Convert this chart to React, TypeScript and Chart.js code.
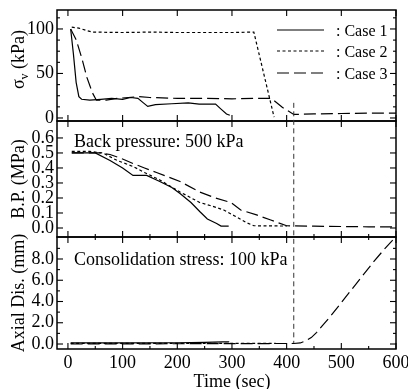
import { useEffect, useRef } from "react";
import { Chart, registerables } from "chart.js";

Chart.register(...registerables);

const FONT = "'Liberation Serif', 'Times New Roman', serif";

const caseLabels = ["Case 1", "Case 2", "Case 3"];
const caseDashes = [[], [3, 2.5], [12, 5]];

// Panel 1: vertical stress sigma_v (kPa) vs time (sec)
const case1Stress = [[5, 100], [10, 72], [15, 40], [20, 24], [25, 21], [40, 20], [60, 21], [80, 22], [100, 21], [115, 23], [128, 22], [138, 17], [146, 13], [160, 15], [190, 16], [220, 17], [240, 15.5], [270, 15.5], [280, 10], [290, 4.5], [296, 3]];
const case2Stress = [[7, 102], [20, 101], [35, 98], [45, 96.5], [100, 96], [150, 96.5], [200, 96], [250, 96], [300, 96], [340, 96.5], [377, 1]];
const case3Stress = [[5, 100], [15, 88], [25, 68], [35, 45], [45, 28], [52, 20], [70, 20], [90, 22], [110, 23], [130, 24], [150, 23], [200, 22], [250, 22], [300, 21.5], [340, 22], [372, 22], [392, 12], [413, 4], [450, 4.5], [500, 5], [550, 5.5], [600, 5.5]];

// Panel 2: back pressure (MPa)
const case1BP = [[7, 0.5], [50, 0.5], [77, 0.45], [100, 0.4], [119, 0.35], [144, 0.35], [168, 0.31], [190, 0.27], [205, 0.23], [225, 0.17], [241, 0.11], [255, 0.06], [272, 0.03], [280, 0.013], [294, 0.013]];
const case2BP = [[7, 0.51], [40, 0.51], [64, 0.5], [90, 0.45], [119, 0.41], [140, 0.37], [168, 0.32], [205, 0.24], [241, 0.17], [260, 0.15], [285, 0.12], [305, 0.08], [327, 0.035], [340, 0.015], [400, 0.013]];
const case3BP = [[7, 0.5], [58, 0.5], [77, 0.49], [100, 0.46], [119, 0.43], [140, 0.4], [162, 0.37], [205, 0.31], [241, 0.24], [270, 0.2], [298, 0.17], [316, 0.12], [345, 0.087], [371, 0.053], [400, 0.015], [450, 0.012], [500, 0.01], [550, 0.008], [600, 0.008]];

// Panel 3: axial displacement (mm)
const case1Dis = [[5, 0.1], [100, 0.1], [200, 0.12], [250, 0.15], [283, 0.2], [295, 0.2]];
const case2Dis = [[5, 0.05], [380, 0.05]];
const case3Dis = [[5, 0], [413, 0.05], [425, 0.1], [435, 0.3], [445, 0.6], [455, 1.1], [465, 1.7], [480, 2.6], [500, 3.9], [520, 5.2], [540, 6.5], [560, 7.8], [580, 9.0], [598, 10.0]];

const separatorTime = 413;
const separatorTopStress = 17;
const separatorBottomDis = 0.1;

const annotationBP = "Back pressure: 500 kPa";
const annotationCS = "Consolidation stress: 100 kPa";
const xTitle = "Time (sec)";

const panels = [
  { id: "yS", min: -3.4, max: 121.3, step: 50, minor: 12.5, maxLabel: 110, digits: 0, weight: 111, topMinor: false, bottomMinor: false },
  { id: "yB", min: -0.06, max: 0.713, step: 0.1, minor: 0, maxLabel: 0.65, digits: 1, weight: 116, topMinor: false, bottomMinor: true },
  { id: "yA", min: -0.47, max: 10.07, step: 2, minor: 1, maxLabel: 9, digits: 1, weight: 112, topMinor: true, bottomMinor: true },
];

function ds(data: number[][], yAxisID: string, idx: number) {
  return {
    label: caseLabels[idx],
    data: data.map(([x, y]) => ({ x, y })),
    xAxisID: "x",
    yAxisID,
    borderColor: "#000",
    backgroundColor: "#000",
    borderWidth: 1.2,
    borderDash: caseDashes[idx],
    pointRadius: 0,
    fill: false,
    tension: 0,
  };
}

const framePlugin = {
  id: "frame",
  afterDraw(chart: any) {
    const ctx = chart.ctx as CanvasRenderingContext2D;
    const xs = chart.scales.x;
    const left = xs.left;
    const right = xs.right;
    const MAJ = 6;
    const MIN = 3;
    const line = (x1: number, y1: number, x2: number, y2: number) => {
      ctx.beginPath();
      ctx.moveTo(x1, y1);
      ctx.lineTo(x2, y2);
      ctx.stroke();
    };
    ctx.save();
    ctx.strokeStyle = "#000";
    ctx.fillStyle = "#000";
    ctx.setLineDash([]);
    for (const p of panels) {
      const ys = chart.scales[p.id];
      const top = ys.top;
      const bottom = ys.bottom;
      ctx.lineWidth = 1.5;
      ctx.strokeRect(left, top, right - left, bottom - top);
      ctx.lineWidth = 1.1;
      ys.ticks.forEach((t: any) => {
        const py = ys.getPixelForValue(t.value);
        line(left, py, left + MAJ, py);
        line(right, py, right - MAJ, py);
      });
      if (p.minor) {
        for (let i = Math.ceil(ys.min / p.minor); i * p.minor <= ys.max; i++) {
          const v = i * p.minor;
          const r = v / p.step;
          if (Math.abs(r - Math.round(r)) < 1e-6) continue;
          const py = ys.getPixelForValue(v);
          line(left, py, left + MIN, py);
          line(right, py, right - MIN, py);
        }
      }
      xs.ticks.forEach((t: any) => {
        const px = xs.getPixelForValue(t.value);
        line(px, top, px, top + MAJ);
        line(px, bottom, px, bottom - MAJ);
        const half = xs.getPixelForValue(t.value + 50);
        if (t.value + 50 < xs.max) {
          if (p.topMinor) line(half, top, half, top + MIN);
          if (p.bottomMinor) line(half, bottom, half, bottom - MIN);
        }
      });
    }

    // vertical separator
    const sx = xs.getPixelForValue(separatorTime);
    ctx.lineWidth = 1;
    ctx.strokeStyle = "#333";
    ctx.setLineDash([5, 3.5]);
    line(sx, chart.scales.yS.getPixelForValue(separatorTopStress), sx, chart.scales.yA.getPixelForValue(separatorBottomDis));

    // legend
    ctx.strokeStyle = "#000";
    ctx.textAlign = "left";
    ctx.textBaseline = "alphabetic";
    ctx.font = `16px ${FONT}`;
    const legendY = [30, 51, 73];
    for (let i = 0; i < 3; i++) {
      const d = chart.data.datasets[i];
      ctx.lineWidth = 1.2;
      ctx.setLineDash(d.borderDash);
      line(277, legendY[i], 324, legendY[i]);
      ctx.setLineDash([]);
      ctx.fillText(": " + caseLabels[i], 336, legendY[i] + 5.5);
    }

    // annotations
    ctx.font = `18px ${FONT}`;
    ctx.fillText(annotationBP, 74, 146.5);
    ctx.fillText(annotationCS, 74, 265);

    // x title
    ctx.textAlign = "center";
    ctx.fillText(xTitle, 232, 387);

    // y titles
    const drawRot = (cy: number, parts: { t: string; size: number; dy: number }[]) => {
      ctx.save();
      ctx.translate(23.5, cy);
      ctx.rotate(-Math.PI / 2);
      ctx.textAlign = "left";
      let total = 0;
      for (const pt of parts) {
        ctx.font = `${pt.size}px ${FONT}`;
        total += ctx.measureText(pt.t).width;
      }
      let x = -total / 2;
      for (const pt of parts) {
        ctx.font = `${pt.size}px ${FONT}`;
        ctx.fillText(pt.t, x, pt.dy);
        x += ctx.measureText(pt.t).width;
      }
      ctx.restore();
    };
    const cS = (chart.scales.yS.top + chart.scales.yS.bottom) / 2 - 6;
    const cB = (chart.scales.yB.top + chart.scales.yB.bottom) / 2;
    const cA = (chart.scales.yA.top + chart.scales.yA.bottom) / 2;
    drawRot(cS, [
      { t: "σ", size: 18, dy: 0 },
      { t: "v", size: 12, dy: 4 },
      { t: " (kPa)", size: 18, dy: 0 },
    ]);
    drawRot(cB, [{ t: "B.P. (MPa)", size: 18, dy: 0 }]);
    drawRot(cA, [{ t: "Axial Dis. (mm)", size: 18, dy: 0 }]);
    ctx.restore();
  },
};

function yScale(p: any, order: number) {
  return {
    type: "linear",
    position: "left",
    stack: "panels",
    stackWeight: p.weight,
    weight: order,
    min: p.min,
    max: p.max,
    grid: { display: false, drawTicks: false },
    border: { display: false },
    afterBuildTicks: (s: any) => {
      s.ticks = s.ticks.filter((t: any) => t.value <= p.maxLabel);
    },
    afterFit: (s: any) => {
      s.width = 57;
      s.paddingTop = 0;
      s.paddingBottom = 0;
    },
    ticks: {
      stepSize: p.step,
      includeBounds: false,
      autoSkip: false,
      padding: 3,
      color: "#000",
      font: { family: FONT, size: 18 },
      callback: (v: number) => v.toFixed(p.digits),
    },
  };
}

export default function App() {
  const ref = useRef<HTMLCanvasElement>(null);
  useEffect(() => {
    if (!ref.current) return;
    const chart = new Chart(ref.current, {
      type: "line",
      data: {
        datasets: [
          ds(case1Stress, "yS", 0),
          ds(case2Stress, "yS", 1),
          ds(case3Stress, "yS", 2),
          ds(case1BP, "yB", 0),
          ds(case2BP, "yB", 1),
          ds(case3BP, "yB", 2),
          ds(case1Dis, "yA", 0),
          ds(case2Dis, "yA", 1),
          ds(case3Dis, "yA", 2),
        ] as any,
      },
      options: {
        animation: false,
        responsive: false,
        devicePixelRatio: 1,
        layout: { padding: { top: 10, right: 12, left: 0, bottom: 0 } },
        plugins: { legend: { display: false }, tooltip: { enabled: false }, title: { display: false } },
        scales: {
          x: {
            type: "linear",
            position: "bottom",
            min: -20,
            max: 600,
            grid: { display: false, drawTicks: false },
            border: { display: false },
            afterFit: (s: any) => {
              s.height = 40;
              s.paddingLeft = 0;
              s.paddingRight = 0;
            },
            ticks: {
              stepSize: 100,
              includeBounds: false,
              autoSkip: false,
              maxRotation: 0,
              padding: 3,
              color: "#000",
              font: { family: FONT, size: 18 },
            },
          },
          yA: yScale(panels[2], 1),
          yB: yScale(panels[1], 2),
          yS: yScale(panels[0], 3),
        } as any,
      },
      plugins: [framePlugin],
    });
    return () => chart.destroy();
  }, []);
  return (
    <div style={{ position: "fixed", left: 0, top: 0, width: 408, height: 389, background: "#fff" }}>
      <canvas ref={ref} width={408} height={389} />
    </div>
  );
}
